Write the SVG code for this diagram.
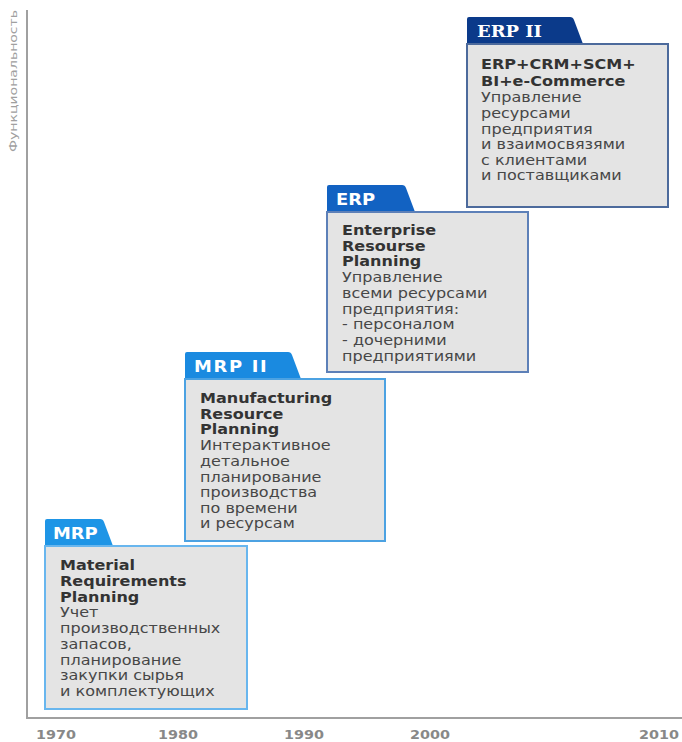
<svg xmlns="http://www.w3.org/2000/svg" width="682" height="742" viewBox="0 0 682 742">
<style>
.tabt{font-family:"DejaVu Sans",Verdana,sans-serif;font-weight:bold;font-size:16px;fill:#fff}
.tabs{font-family:"DejaVu Serif","Liberation Serif",serif;font-weight:bold;font-size:16px;fill:#fff}
.b{font-family:"DejaVu Sans",Verdana,sans-serif;font-weight:bold;font-size:13.6px;fill:#333}
.r{font-family:"DejaVu Sans",Verdana,sans-serif;font-size:13.6px;fill:#474747}
.body{fill:#e4e4e4;stroke-width:2}
.axis{stroke:#a0a0a0;stroke-width:2;fill:none}
.yr{font-family:"DejaVu Sans",Verdana,sans-serif;font-weight:bold;font-size:12.5px;fill:#888}
.ylab{font-family:"DejaVu Sans",Verdana,sans-serif;font-size:10px;fill:#a0a0a0}
</style>
<g id="axes">
<path class="axis" d="M27,10 V718 H682"/>
<text class="ylab" transform="translate(17,152) rotate(-90)" textLength="142" lengthAdjust="spacingAndGlyphs">Функциональность</text>
<g transform="scale(1.15,1)">
<text class="yr" x="48.7" y="739" text-anchor="middle">1970</text>
<text class="yr" x="154.8" y="739" text-anchor="middle">1980</text>
<text class="yr" x="264.3" y="739" text-anchor="middle">1990</text>
<text class="yr" x="373.9" y="739" text-anchor="middle">2000</text>
<text class="yr" x="573" y="739" text-anchor="middle">2010</text>
</g>
</g>
<g id="connectors"></g>
<g id="mrp" transform="translate(45,519)">
<path d="M0,27 V2 Q0,0 2,0 H55 Q58,0 59,3 L68,27 Z" fill="#1e95e6"/>
<rect class="body" x="0" y="27" width="202" height="163" stroke="#68b6ee"/>
<g transform="translate(8,0) scale(1.12,1)"><text class="tabt" x="0" y="20">MRP</text></g>
<g transform="translate(15,0) scale(1.18,1)">
<text class="b" x="0" y="51">Material</text>
<text class="b" x="0" y="67">Requirements</text>
<text class="b" x="0" y="83">Planning</text>
<text class="r" x="0" y="98">Учет</text>
<text class="r" x="0" y="114">производственных</text>
<text class="r" x="0" y="130">запасов,</text>
<text class="r" x="0" y="146">планирование</text>
<text class="r" x="0" y="161">закупки сырья</text>
<text class="r" x="0" y="177">и комплектующих</text>
</g>
</g>
<g id="mrp2" transform="translate(185,352)">
<path d="M0,27 V2 Q0,0 2,0 H103 Q106,0 107,3 L116,27 Z" fill="#1a8ae0"/>
<rect class="body" x="0" y="27" width="200" height="162" stroke="#4ca2e2"/>
<g transform="translate(9,0) scale(1.12,1)"><text class="tabt" x="0" y="20" letter-spacing="1.5">MRP II</text></g>
<g transform="translate(15,0) scale(1.18,1)">
<text class="b" x="0" y="51">Manufacturing</text>
<text class="b" x="0" y="67">Resource</text>
<text class="b" x="0" y="82">Planning</text>
<text class="r" x="0" y="98">Интерактивное</text>
<text class="r" x="0" y="114">детальное</text>
<text class="r" x="0" y="130">планирование</text>
<text class="r" x="0" y="145">производства</text>
<text class="r" x="0" y="161">по времени</text>
<text class="r" x="0" y="176">и ресурсам</text>
</g>
</g>
<g id="erp" transform="translate(327,185)">
<path d="M0,27 V2 Q0,0 2,0 H75 Q78,0 79,3 L88,27 Z" fill="#1262c2"/>
<rect class="body" x="0" y="27" width="201" height="160" stroke="#5d80b8"/>
<g transform="translate(9,0) scale(1.12,1)"><text class="tabt" x="0" y="20">ERP</text></g>
<g transform="translate(15,0) scale(1.18,1)">
<text class="b" x="0" y="50">Enterprise</text>
<text class="b" x="0" y="66">Resourse</text>
<text class="b" x="0" y="81">Planning</text>
<text class="r" x="0" y="97">Управление</text>
<text class="r" x="0" y="113">всеми ресурсами</text>
<text class="r" x="0" y="129">предприятия:</text>
<text class="r" x="0" y="144">- персоналом</text>
<text class="r" x="0" y="160">- дочерними</text>
<text class="r" x="0" y="176">предприятиями</text>
</g>
</g>
<g id="erp2" transform="translate(467,17)">
<path d="M0,27 V2 Q0,0 2,0 H103 Q106,0 107,3 L116,27 Z" fill="#0b3a8a"/>
<rect class="body" x="0" y="27" width="201" height="163" stroke="#4c6a9c"/>
<g transform="translate(10,0) scale(1.12,1)"><text class="tabs" x="0" y="20">ERP II</text></g>
<g transform="translate(14,0) scale(1.18,1)">
<text class="b" x="0" y="52">ERP+CRM+SCM+</text>
<text class="b" x="0" y="69">BI+e-Commerce</text>
<text class="r" x="0" y="85">Управление</text>
<text class="r" x="0" y="101">ресурсами</text>
<text class="r" x="0" y="117">предприятия</text>
<text class="r" x="0" y="132">и взаимосвязями</text>
<text class="r" x="0" y="148">с клиентами</text>
<text class="r" x="0" y="163">и поставщиками</text>
</g>
</g>
</svg>
